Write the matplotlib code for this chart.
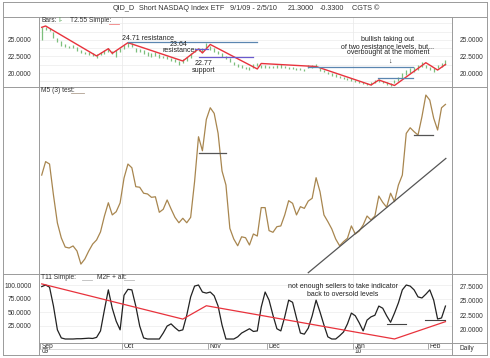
import matplotlib.pyplot as plt
from matplotlib.lines import Line2D
import numpy as np

plt.rcParams['font.family'] = ['Liberation Sans', 'DejaVu Sans']

W, H = 490, 358

# ---------------- data ----------------
month_labels = ['Sep', 'Oct', 'Nov', 'Dec', 'Jan', 'Feb']
year_labels = ['09', '', '', '', '10', '']
month_first_bar = [0, 21, 43, 58, 80, 99]

bar_high = [26.97, 26.92, 26.86, 26.26, 25.26, 24.85, 24.35, 24.14, 24.24, 23.89,
            23.48, 23.23, 23.14, 22.98, 22.83, 23.23, 23.48, 23.74, 23.33, 23.48,
            23.74, 24.24, 24.65, 24.50, 23.83, 23.64, 23.48, 23.14, 22.98, 23.14,
            22.83, 22.62, 22.53, 22.32, 22.12, 21.82,
            22.08, 22.47, 22.98, 23.83, 23.83, 23.74, 24.50, 24.14, 23.74, 23.33,
            22.98, 22.62, 22.23, 21.71, 21.32, 21.21, 20.95, 20.95, 21.32, 21.47,
            21.21, 21.21, 21.06, 21.10, 21.21, 21.32, 21.11, 20.95, 20.91, 20.80,
            20.71, 20.61, 21.21, 21.21, 21.32,
            20.71, 20.45, 20.20, 19.95, 19.80, 19.59, 19.39, 19.29, 19.20, 18.94,
            18.79, 18.68, 18.53, 18.68, 18.94, 19.09, 18.79, 18.68, 18.44, 18.94,
            19.44, 19.95, 20.45, 20.71, 20.95, 21.21, 21.62, 21.21, 20.95, 20.71,
            21.21, 21.50, 21.97]
bar_low = [25.00, 26.52, 26.36, 25.35, 24.74, 24.14, 23.89, 23.74, 23.74, 23.33,
           22.98, 22.83, 22.73, 22.62, 22.32, 22.73, 22.83, 23.14, 22.83, 22.47,
           23.14, 23.64, 23.98, 23.98, 23.23, 23.23, 22.83, 22.62, 22.47, 22.53,
           22.23, 22.23, 22.12, 21.82, 21.62, 21.21,
           21.47, 21.82, 22.23, 23.14, 23.33, 23.14, 23.74, 23.48, 23.23, 22.83,
           22.47, 22.12, 21.71, 21.21, 20.95, 20.80, 20.61, 20.45, 20.71, 21.11,
           20.80, 20.71, 20.71, 20.75, 20.80, 20.80, 20.71, 20.56, 20.56, 20.41,
           20.41, 20.30, 20.71, 20.80, 20.91,
           20.30, 20.11, 19.80, 19.59, 19.44, 19.29, 19.09, 18.94, 18.79, 18.68,
           18.44, 18.29, 18.18, 18.18, 18.44, 18.68, 18.44, 18.18, 18.08, 18.44,
           18.79, 19.20, 19.70, 19.95, 20.20, 20.45, 20.95, 20.71, 20.45, 20.20,
           20.71, 20.90, 21.21]

zz_bar = [0, 1, 14, 17, 18, 22, 36, 40, 41, 43, 55, 56, 70, 84, 86, 90, 98, 101, 103]
zz_price = [26.92, 27.12, 22.58, 23.68, 22.98, 24.59, 21.82, 23.64, 23.03, 24.32,
            20.61, 21.44, 20.98, 18.18, 18.94, 18.11, 21.56, 20.45, 21.29]

# drawn levels: (price, first bar, last bar, colour)
levels = [(24.71, 22.0, 54.8, '#5b86b0'),
          (23.64, 39.0, 42.5, '#6a5acd'),
          (22.40, 40.0, 54.0, '#6a5acd'),
          (20.95, 68.0, 94.8, '#5b86b0'),
          (19.17, 85.9, 94.8, '#5b86b0')]

m5 = [52.9, 60.1, 58.8, 42.2, 27.3, 19.3, 14.4, 13.9, 15.0, 12.3,
      5.3, 8.0, 12.3, 16.0, 18.2, 22.5, 31.0, 38.1, 31.6, 33.3,
      38.0, 51.3, 58.8, 56.8, 46.7, 46.4, 43.2, 42.8, 41.0, 41.3,
      33.0, 34.6, 39.6, 34.8, 30.3, 27.4, 29.8, 27.4, 30.3, 49.4,
      73.4, 65.9, 82.7, 88.9, 85.9, 75.2, 55.1, 47.6, 24.4, 18.7,
      15.1, 19.9, 19.4, 15.5, 21.4, 20.3, 35.5, 35.5, 23.2, 22.3,
      25.3, 25.7, 31.6, 39.2, 37.8, 31.6, 36.0, 35.1, 39.0, 40.5,
      51.5, 44.0, 31.6, 28.0, 24.1, 18.7, 15.1, 17.3, 19.1, 25.7,
      21.4, 23.0, 26.2, 31.0, 28.9, 31.0, 41.7, 38.3, 35.7, 43.2,
      38.7, 47.6, 52.9, 75.2, 78.2, 76.1, 74.3, 84.1, 95.7, 93.0,
      83.3, 77.0, 88.9, 90.7]
m5_marks = [(64.9, 40.1, 47.0), (74.3, 95.0, 99.8)]
m5_trend_x = [68.0, 103.1]
m5_trend_y = [0.7, 61.8]

t11 = [97, 100, 96, 61, 17, 2, 0, 0, 0, 0.5,
       0.5, 1, 1.5, 1, 3, 15, 54, 91, 57, 33,
       17, 81, 92, 91, 61, 24, 2, 0, 0, 0,
       0, 11, 24, 28, 21, 15, 17, 44, 78, 98,
       100, 87, 85, 87, 80, 61, 26, 0, 0, 0,
       4, 11, 15, 19, 14, 15, 59, 87, 72, 44,
       19, 15, 41, 72, 68, 39, 11, 9, 20, 43,
       72, 50, 26, 4, 0, 0, 6, 13, 28, 48,
       43, 30, 15, 35, 41, 44, 61, 57, 43, 31,
       48, 67, 91, 100, 98, 91, 78, 76, 83, 91,
       72, 37, 39, 61]
t11_marks = [(27.8, 88.0, 92.9), (35.2, 97.8, 102.9)]

m2f_bar = [0, 36, 42, 90, 103]
m2f_price = [28.0, 21.8, 24.15, 18.3, 21.35]

x = np.arange(len(m5))
XLIM = (-0.69, 104.67)
GRID = '#ebebeb'
FRAME = '#9a9a9a'
TXT = '#333333'


def fx(px):
    return px / W


def fy(py):
    return 1 - py / H


fig = plt.figure(figsize=(W / 100, H / 100), dpi=100)
L, R = 39, 452
ax1 = fig.add_axes([fx(L), fy(87), fx(R) - fx(L), 70 / H])
ax2 = fig.add_axes([fx(L), fy(274), fx(R) - fx(L), 187 / H])
ax3 = fig.add_axes([fx(L), fy(343), fx(R) - fx(L), 69 / H])
ax3r = ax3.twinx()

for a in (ax1, ax2, ax3, ax3r):
    a.set_xlim(*XLIM)
    for s in a.spines.values():
        s.set_visible(False)
    a.set_xticks([])
    a.tick_params(axis='y', which='both', left=False, right=False,
                  labelsize=4.8, labelcolor=TXT, pad=2)

quarter_lines = [month_first_bar[1] - 0.5, month_first_bar[4] - 0.5]

# ---- top panel: price bars ----
ax1.set_ylim(17.88, 28.48)
ax1.set_yticks([20, 22.5, 25])
ax1.set_yticklabels(['%.4f' % v for v in [20, 22.5, 25]])
ax1.tick_params(axis='y', labelleft=True, labelright=True)
ax1.set_yticks(np.arange(18.75, 28.5, 1.25), minor=True)
ax1.grid(True, axis='y', which='both', color=GRID, lw=0.5)
for q in quarter_lines:
    ax1.axvline(q, color=GRID, lw=0.6)
ax1.vlines(x, bar_low, bar_high, color='#7cbf7c', lw=0.9)
ax1.plot(zz_bar, zz_price, color='#e8323c', lw=1.0)
for lev, b0, b1, c in levels:
    ax1.plot([b0, b1], [lev, lev], color=c, lw=0.9)
ax1.text(20.5, 25.15, '24.71 resistance', fontsize=5, ha='left', va='center', color='#222')
ax1.text(32.7, 24.39, '23.64', fontsize=5, ha='left', va='center', color='#222')
ax1.text(30.9, 23.38, 'resistance', fontsize=5, ha='left', va='center', color='#222')
ax1.text(38.9, 21.47, '22.77', fontsize=5, ha='left', va='center', color='#222')
ax1.text(38.4, 20.35, 'support', fontsize=5, ha='left', va='center', color='#222')
ax1.text(88.3, 25.1, 'bullish taking out', fontsize=5, ha='center', va='center', color='#222')
ax1.text(88.3, 24.08, 'of two resistance levels, but...', fontsize=5, ha='center', va='center', color='#222')
ax1.text(88.3, 23.07, 'overbought at the moment', fontsize=5, ha='center', va='center', color='#222')
ax1.text(88.8, 21.8, '\u2193', fontsize=5, ha='center', va='center', color='#222')

# ---- middle panel: M5 oscillator ----
ax2.set_ylim(0, 100)
ax2.set_yticks([])
for q in quarter_lines:
    ax2.axvline(q, color=GRID, lw=0.6)
ax2.plot(x, m5, color='#a8864f', lw=0.9)
for lev, b0, b1 in m5_marks:
    ax2.plot([b0, b1], [lev, lev], color='#555555', lw=0.9)
ax2.plot(m5_trend_x, m5_trend_y, color='#555555', lw=0.9)

# ---- bottom panel: T11 + M2F ----
ax3.set_ylim(-7.4, 120.4)
ax3.set_yticks([25, 50, 75, 100])
ax3.set_yticklabels(['%.4f' % v for v in [25, 50, 75, 100]])
ax3.grid(True, axis='y', color=GRID, lw=0.5)
for q in quarter_lines:
    ax3.axvline(q, color=GRID, lw=0.6)
ax3.plot(x, t11, color='#222222', lw=0.9)
for lev, b0, b1 in t11_marks:
    ax3.plot([b0, b1], [lev, lev], color='#444444', lw=0.8)
ax3.text(76.9, 96.9, 'not enough sellers to take indicator', fontsize=5, ha='center', va='center', color='#222')
ax3.text(76.9, 83.3, 'back to oversold levels', fontsize=5, ha='center', va='center', color='#222')

ax3r.set_ylim(17.59, 29.74)
ax3r.set_yticks([20, 22.5, 25, 27.5])
ax3r.set_yticklabels(['%.4f' % v for v in [20, 22.5, 25, 27.5]])
ax3r.plot(m2f_bar, m2f_price, color='#e8323c', lw=0.9)

# date axis
for m, yl, b in zip(month_labels, year_labels, month_first_bar):
    tx = b - 0.5
    ax3.plot([tx, tx], [0, -0.085], transform=ax3.get_xaxis_transform(),
             color=FRAME, lw=0.6, clip_on=False)
    ax3.text(tx + 0.4, -0.05, m, transform=ax3.get_xaxis_transform(),
             fontsize=4.8, ha='left', va='center', color=TXT)
    if yl:
        ax3.text(tx + 0.4, -0.13, yl, transform=ax3.get_xaxis_transform(),
                 fontsize=4.8, ha='left', va='center', color=TXT)

# ---- frame lines ----
def hline(py, x0, x1, c=FRAME, lw=0.7):
    fig.add_artist(Line2D([fx(x0), fx(x1)], [fy(py), fy(py)], color=c, lw=lw))


def vline(px, y0, y1, c=FRAME, lw=0.7):
    fig.add_artist(Line2D([fx(px), fx(px)], [fy(y0), fy(y1)], color=c, lw=lw))


hline(1.5, 3, 487)
hline(17, 3, 487)
hline(87, 3, 487)
hline(274, 3, 487)
hline(343, L, 487)
hline(348.5, L, R, c='#c8c8c8', lw=0.5)
hline(354.5, 3, 487)
vline(3, 1.5, 354.5)
vline(487, 1.5, 354.5)
vline(L, 17, 354.5)
vline(R, 17, 354.5)

# ---- header texts ----
title_parts = [(113, 'QID_D'), (139, 'Short NASDAQ Index ETF'), (230, '9/1/09 - 2/5/10'),
               (288, '21.3000'), (320, '-0.3300'), (352, 'CGTS \u00a9')]
for px, s in title_parts:
    fig.text(fx(px), fy(9), s, fontsize=5.2, ha='left', va='center', color=TXT)

fig.text(fx(41), fy(21), 'Bars:', fontsize=4.8, ha='left', va='center', color=TXT)
fig.text(fx(58), fy(21), 'I-', fontsize=4.8, ha='left', va='center', color='#4aa04a')
fig.text(fx(70), fy(21), 'T2.55 Simple:', fontsize=4.8, ha='left', va='center', color=TXT)
hline(23.5, 109, 119, c='#f08080', lw=0.6)
fig.text(fx(41), fy(91), 'M5 (3) test:', fontsize=4.8, ha='left', va='center', color=TXT)
hline(93, 71, 84, c='#b0a090', lw=0.6)
fig.text(fx(41), fy(277.5), 'T11 Simple:', fontsize=4.8, ha='left', va='center', color=TXT)
hline(279.5, 82, 92, c='#bbbbbb', lw=0.6)
fig.text(fx(97), fy(277.5), 'M2F + alt:', fontsize=4.8, ha='left', va='center', color=TXT)
hline(279.5, 124, 134, c='#bbbbbb', lw=0.6)
fig.text(fx(467), fy(349), 'Daily', fontsize=4.8, ha='center', va='center', color=TXT)

fig.savefig('out.png', dpi=100)
